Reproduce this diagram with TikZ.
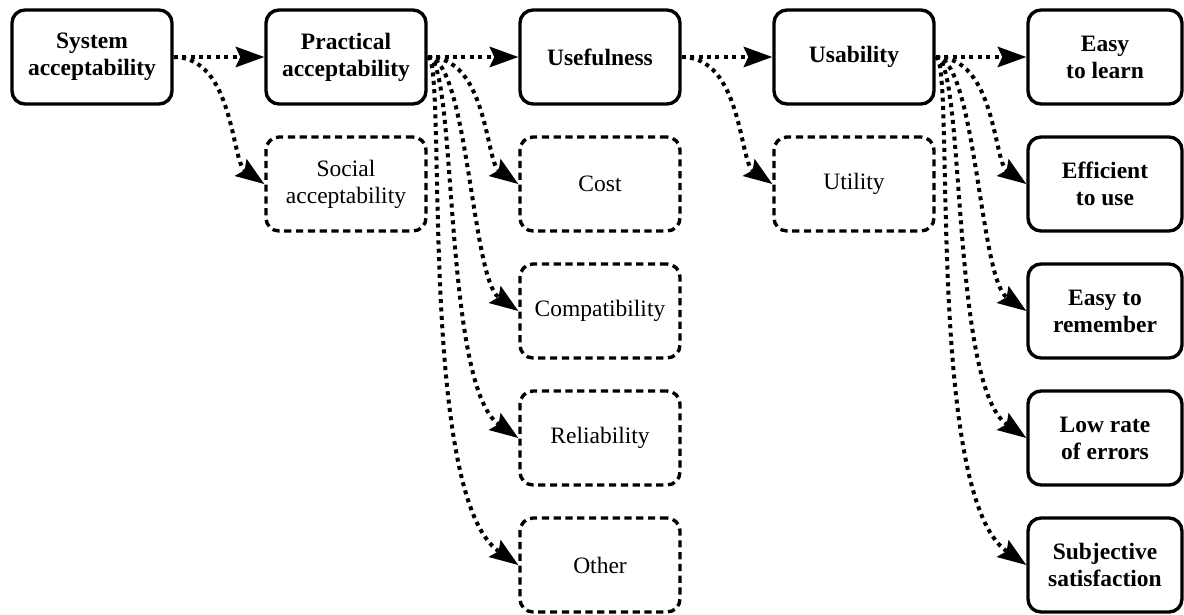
\documentclass[tikz,border=0pt]{standalone}
\usepackage{fontspec}
\setmainfont{Liberation Serif}
\usetikzlibrary{arrows.meta, positioning}

\begin{document}
\begin{tikzpicture}[
    x=0.5pt, y=-0.5pt,
    main/.style={rectangle, rounded corners=6.5pt, draw, line width=1.7pt,
                 minimum width=80pt, minimum height=47pt, align=center,
                 font=\fontsize{11.75}{13.5}\selectfont\bfseries},
    last/.style={main, minimum width=77pt},
    side/.style={main, dash pattern=on 3.6pt off 2.3pt,
                 font=\fontsize{11.75}{13.5}\selectfont},
    arrow/.style={-{Stealth[length=14.5pt, width=10.5pt, inset=2.5pt, line width=0pt, fill=black]},
                  line width=2pt, dash pattern=on 2pt off 2.2pt},
    drop1/.style={arrow, out=0, in=145, out distance=30pt, in distance=20pt},
    drop2/.style={arrow, out=0, in=145, out distance=20pt, in distance=28.5pt},
    drop3/.style={arrow, out=0, in=145, out distance=15pt, in distance=46.5pt},
    drop4/.style={arrow, out=0, in=145, out distance=10pt, in distance=62pt},
    node distance=14.8pt and 45.3pt
]
    \useasboundingbox (0,0) rectangle (1184,615);

    % top row
    \node[main] (sys) at (92,57) {System\\acceptability};
    \node[main, right=of sys] (prac) {Practical\\acceptability};
    \node[main, right=of prac] (usef) {Usefulness};
    \node[main, right=of usef] (usab) {Usability};
    \node[last, right=of usab] (learn) {Easy\\to learn};

    % branches
    \node[side, below=of prac] (soc) {Social\\acceptability};
    \node[side, below=of usef] (cost) {Cost};
    \node[side, below=of cost] (compat) {Compatibility};
    \node[side, below=of compat] (relia) {Reliability};
    \node[side, below=of relia] (other) {Other};
    \node[side, below=of usab] (util) {Utility};
    \node[last, below=of learn] (effic) {Efficient\\to use};
    \node[last, below=of effic] (remem) {Easy to\\remember};
    \node[last, below=of remem] (errors) {Low rate\\of errors};
    \node[last, below=of errors] (satis) {Subjective\\satisfaction};

    \draw[arrow] (sys) -- (prac);
    \draw[arrow] (prac) -- (usef);
    \draw[arrow] (usef) -- (usab);
    \draw[arrow] (usab) -- (learn);

    \draw[drop1] (sys.east) to (soc.west);
    \draw[drop1] (prac.east) to (cost.west);
    \draw[drop2] (prac.east) to (compat.west);
    \draw[drop3] (prac.east) to (relia.west);
    \draw[drop4] (prac.east) to (other.west);
    \draw[drop1] (usef.east) to (util.west);
    \draw[drop1] (usab.east) to (effic.west);
    \draw[drop2] (usab.east) to (remem.west);
    \draw[drop3] (usab.east) to (errors.west);
    \draw[drop4] (usab.east) to (satis.west);
\end{tikzpicture}
\end{document}
